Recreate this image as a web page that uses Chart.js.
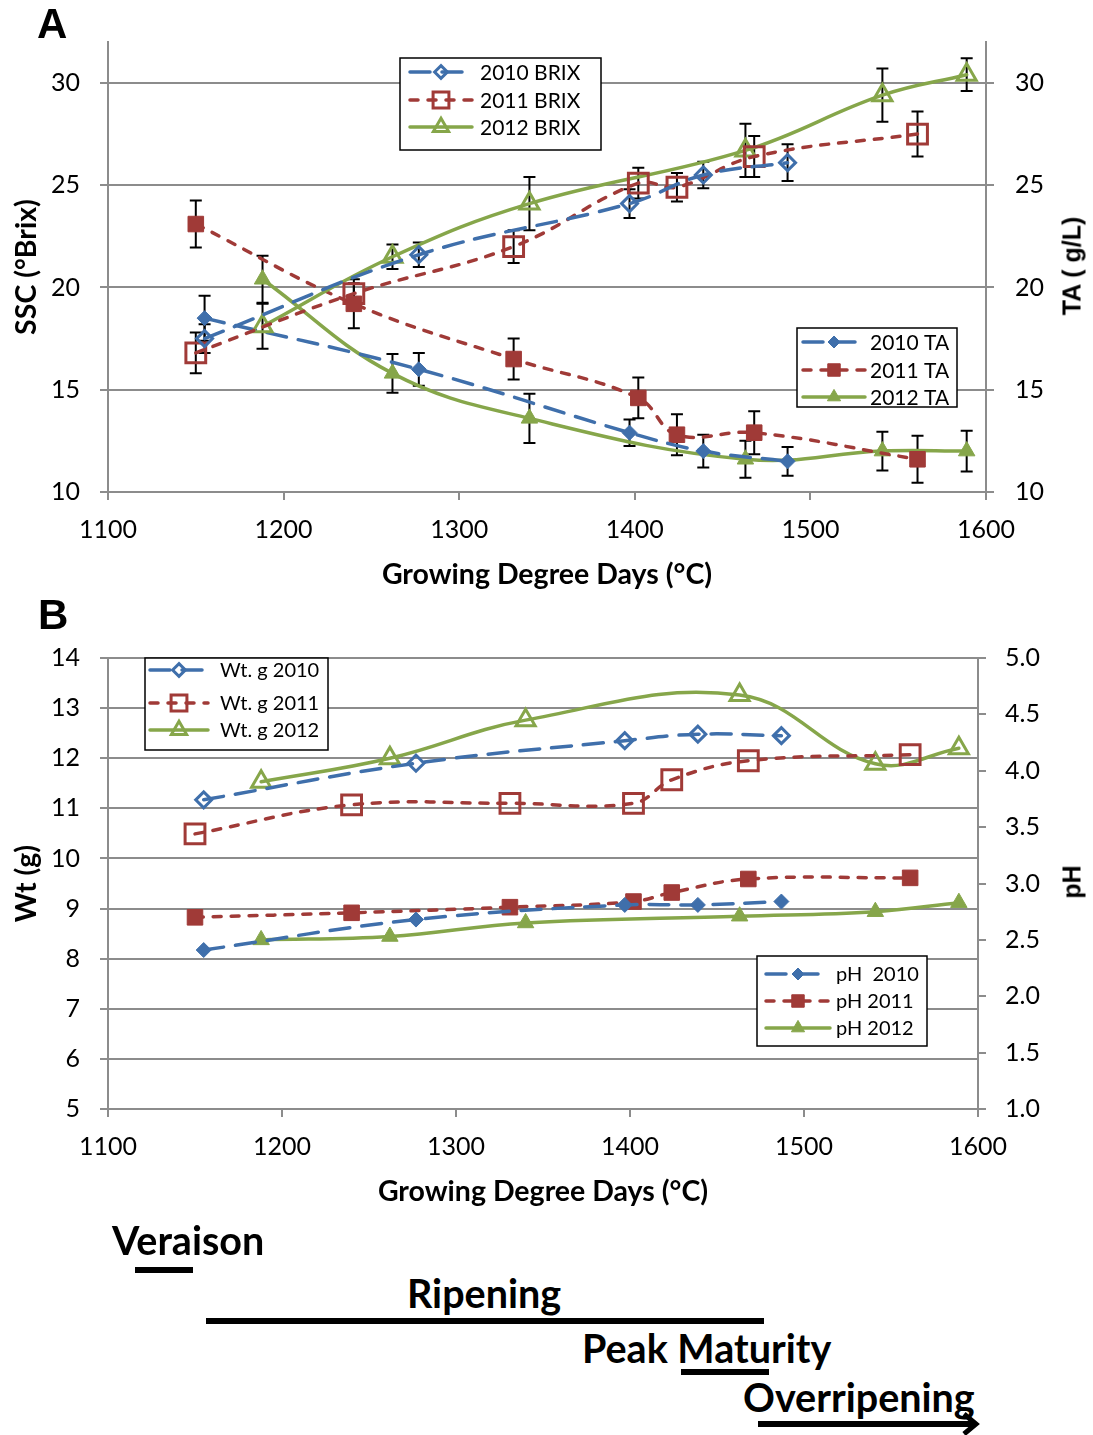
<!DOCTYPE html>
<html lang="en">
<head>
<meta charset="UTF-8">
<title>Berry SSC, TA, weight and pH against growing degree days</title>
<script src="https://cdn.jsdelivr.net/npm/chart.js"></script>
<style>
  body { margin: 0; background: #fff; }
  #page { position: relative; width: 1093px; height: 1435px; overflow: hidden; }
  canvas { position: absolute; left: 0; }
  #chartA { top: 0; }
  #chartB { top: 600px; }
  .tag { position: absolute; font: bold 42px "Liberation Sans", Arial, sans-serif; line-height: 42px; }
  .rtitle { position: absolute; font: bold 25px "Liberation Sans", Arial, sans-serif; white-space: nowrap;
            transform: translate(-50%, -50%) rotate(-90deg); }
  .stage { position: absolute; font: bold 39.5px Lato, sans-serif; line-height: 39.5px; white-space: nowrap; }
  .bar { position: absolute; background: #000; height: 6px; }
</style>
</head>
<body>
<div id="page">
  <canvas id="chartA" width="1093" height="600"></canvas>
  <canvas id="chartB" width="1093" height="620"></canvas>

  <div class="tag" style="left:37px; top:3px;">A</div>
  <div class="tag" style="left:38px; top:594px;">B</div>
  <div class="rtitle" style="left:1072px; top:266px;">TA ( g/L)</div>
  <div class="rtitle" style="left:1072px; top:882px;">pH</div>

  <div class="stage" style="left:112px; top:1220px;">Veraison</div>
  <div class="bar" style="left:135px; width:58px; top:1267px;"></div>
  <div class="stage" style="left:407px; top:1273px;">Ripening</div>
  <div class="bar" style="left:206px; width:558px; top:1318px;"></div>
  <div class="stage" style="left:582px; top:1328px;">Peak Maturity</div>
  <div class="bar" style="left:681px; width:88px; top:1369px;"></div>
  <div class="stage" style="left:743px; top:1377px;">Overripening</div>
  <svg style="position:absolute; left:750px; top:1408px;" width="240" height="27">
    <line x1="8" y1="16" x2="224" y2="16" stroke="#000" stroke-width="6"/>
    <polyline points="214,6 226,16 214,26" fill="none" stroke="#000" stroke-width="5"/>
  </svg>
</div>

<script>
// growing degree days at each sampling date (°C)
const gdd2010 = [1155, 1277, 1397, 1439, 1487];
const gdd2011 = [1150, 1240, 1331, 1402, 1424, 1468, 1561];
const gdd2012 = [1188, 1262, 1340, 1463, 1541, 1589];

// panel A: soluble solids (°Brix) and titratable acidity (g/L), with error bars
const brix2010 = [17.5, 21.6, 24.1, 25.5, 26.1];
const brix2011 = [16.8, 19.7, 22.0, 25.1, 24.9, 26.4, 27.5];
const brix2012 = [18.1, 21.5, 24.1, 26.7, 29.4, 30.4];
const ta2010 = [18.5, 16.0, 12.9, 12.0, 11.5];
const ta2011 = [23.1, 19.2, 16.5, 14.6, 12.8, 12.9, 11.6];
const ta2012 = [20.4, 15.8, 13.6, 11.6, 12.0, 12.0];

const brixErr2010 = [0.7, 0.6, 0.7, 0.65, 0.9];
const brixErr2011 = [1.0, 0.5, 0.8, 0.75, 0.7, 1.0, 1.1];
const brixErr2012 = [1.1, 0.6, 1.3, 1.3, 1.3, 0.8];
const taErr2010 = [1.1, 0.8, 0.65, 0.8, 0.7];
const taErr2011 = [1.15, 1.2, 1.0, 1.0, 1.0, 1.05, 1.15];
const taErr2012 = [1.15, 0.95, 1.2, 0.9, 0.95, 1.0];

// panel B: berry weight (g) and juice pH
const wt2010 = [11.17, 11.9, 12.35, 12.48, 12.45];
const wt2011 = [10.49, 11.07, 11.1, 11.1, 11.57, 11.95, 12.07];
const wt2012 = [11.53, 12.0, 12.76, 13.26, 11.89, 12.2];
const ph2010 = [2.41, 2.68, 2.81, 2.81, 2.84];
const ph2011 = [2.70, 2.74, 2.79, 2.84, 2.92, 3.04, 3.05];
const ph2012 = [2.50, 2.53, 2.65, 2.71, 2.75, 2.83];

const BLUE = '#3F6FAB', RED = '#A03A37', GREEN = '#86A64A';
const GRID = '#8C8C8C';
const FONT = 'Lato';

const pts = (xs, ys) => xs.map((x, i) => ({ x: x, y: ys[i] }));

// year styles: 2010 long dash, 2011 short dash, 2012 solid
const yearStyle = {
  2010: { color: BLUE, dash: [20, 12], open: 'rectRot', openR: 8, filled: 'rectRot', filledR: 7.5 },
  2011: { color: RED, dash: [8, 10], open: 'rect', openR: 14, filled: 'rect', filledR: 11 },
  2012: { color: GREEN, dash: [], open: 'triangle', openR: 11, filled: 'triangle', filledR: 9.5 }
};

function series(label, year, xs, ys, open, axis, errs) {
  const s = yearStyle[year];
  return {
    label: label,
    data: pts(xs, ys),
    errors: errs,
    yAxisID: axis,
    borderColor: s.color,
    borderWidth: 3.5,
    borderDash: s.dash,
    borderCapStyle: 'round',
    tension: 0.4,
    fill: false,
    pointStyle: open ? s.open : s.filled,
    pointRadius: open ? s.openR : s.filledR,
    pointHoverRadius: open ? s.openR : s.filledR,
    pointBorderColor: s.color,
    pointBackgroundColor: open ? 'rgba(0,0,0,0)' : s.color,
    pointBorderWidth: open ? 3 : 1
  };
}

// vertical error bars, drawn under the markers
const errorBars = {
  id: 'errorBars',
  beforeDatasetsDraw(chart) {
    const ctx = chart.ctx;
    const xs = chart.scales.x;
    ctx.save();
    ctx.strokeStyle = '#000';
    ctx.lineWidth = 2;
    chart.data.datasets.forEach(ds => {
      if (!ds.errors) return;
      const ys = chart.scales[ds.yAxisID];
      ds.data.forEach((p, i) => {
        const e = ds.errors[i];
        const px = xs.getPixelForValue(p.x);
        const top = ys.getPixelForValue(p.y + e);
        const bot = ys.getPixelForValue(p.y - e);
        ctx.beginPath();
        ctx.moveTo(px, top); ctx.lineTo(px, bot);
        ctx.moveTo(px - 6, top); ctx.lineTo(px + 6, top);
        ctx.moveTo(px - 6, bot); ctx.lineTo(px + 6, bot);
        ctx.stroke();
      });
    });
    ctx.restore();
  }
};

// Excel-style boxed legends placed inside the plot
const boxLegend = {
  id: 'boxLegend',
  afterDraw(chart, args, opts) {
    const ctx = chart.ctx;
    (opts.boxes || []).forEach(box => {
      ctx.save();
      ctx.fillStyle = '#fff';
      ctx.fillRect(box.x, box.y, box.w, box.h);
      ctx.strokeStyle = '#000';
      ctx.lineWidth = 1.5;
      ctx.strokeRect(box.x, box.y, box.w, box.h);
      box.items.forEach((idx, i) => {
        const ds = chart.data.datasets[idx];
        const y = box.rows[i];
        ctx.save();
        ctx.strokeStyle = ds.borderColor;
        ctx.lineWidth = ds.borderWidth;
        ctx.lineCap = 'round';
        ctx.setLineDash(ds.borderDash);
        ctx.beginPath();
        ctx.moveTo(box.lineX[0], y);
        ctx.lineTo(box.lineX[1], y);
        ctx.stroke();
        ctx.restore();
        ctx.save();
        ctx.fillStyle = ds.pointBackgroundColor;
        ctx.strokeStyle = ds.pointBorderColor;
        ctx.lineWidth = ds.pointBorderWidth;
        Chart.helpers.drawPoint(ctx, {
          pointStyle: ds.pointStyle,
          radius: ds.pointRadius * 0.8,
          rotation: 0,
          borderWidth: ds.pointBorderWidth
        }, (box.lineX[0] + box.lineX[1]) / 2, y);
        ctx.restore();
        ctx.fillStyle = '#000';
        ctx.font = box.fontSize + 'px ' + FONT;
        ctx.textBaseline = 'middle';
        ctx.fillText(ds.label, box.textX, y + 1);
      });
      ctx.restore();
    });
  }
};

const tickFont = { family: FONT, size: 25 };
const titleFont = { family: FONT, size: 28.5, weight: 'bold' };

function xAxis(height, titlePad) {
  return {
    type: 'linear', min: 1100, max: 1600,
    ticks: { stepSize: 100, font: tickFont, color: '#000', padding: 15, maxRotation: 0, callback: v => String(v) },
    grid: { drawOnChartArea: false, color: GRID, lineWidth: 2, tickLength: 8 },
    border: { color: GRID, width: 2 },
    title: { display: true, text: 'Growing Degree Days (°C)', font: titleFont, color: '#000', padding: { bottom: titlePad } },
    afterFit: s => { s.height = height; }
  };
}

function yAxis(pos, min, max, step, width, pad, grid, title, fmt) {
  return {
    type: 'linear', position: pos, min: min, max: max,
    ticks: { stepSize: step, includeBounds: false, font: tickFont, color: '#000', padding: pad, callback: fmt },
    grid: { drawOnChartArea: grid, color: GRID, lineWidth: 2, tickLength: 8 },
    border: { color: GRID, width: 2 },
    title: title ? { display: true, text: title, font: titleFont, color: '#000', padding: { top: 10 } } : { display: false },
    afterFit: s => { s.width = width; }
  };
}

const common = {
  responsive: false,
  animation: false,
  plugins: { legend: { display: false }, tooltip: { enabled: false } }
};

new Chart(document.getElementById('chartA'), {
  type: 'line',
  data: {
    datasets: [
      series('2010 BRIX', 2010, gdd2010, brix2010, true, 'y', brixErr2010),
      series('2011 BRIX', 2011, gdd2011, brix2011, true, 'y', brixErr2011),
      series('2012 BRIX', 2012, gdd2012, brix2012, true, 'y', brixErr2012),
      series('2010 TA', 2010, gdd2010, ta2010, false, 'y2', taErr2010),
      series('2011 TA', 2011, gdd2011, ta2011, false, 'y2', taErr2011),
      series('2012 TA', 2012, gdd2012, ta2012, false, 'y2', taErr2012)
    ]
  },
  options: Object.assign({}, common, {
    layout: { padding: { top: 42, left: 0, right: 0, bottom: 0 } },
    scales: {
      x: xAxis(108, 8),
      y: yAxis('left', 10, 32, 5, 108, 20, true, 'SSC (°Brix)', v => String(v)),
      y2: yAxis('right', 10, 32, 5, 107, 21, false, null, v => String(v))
    },
    plugins: Object.assign({}, common.plugins, {
      boxLegend: {
        boxes: [
          { x: 400, y: 58, w: 201, h: 92, items: [0, 1, 2], rows: [72, 100, 127], lineX: [410, 472], textX: 480, fontSize: 21 },
          { x: 797, y: 328, w: 160, h: 79, items: [3, 4, 5], rows: [342, 370, 397], lineX: [803, 865], textX: 870, fontSize: 21 }
        ]
      }
    })
  }),
  plugins: [errorBars, boxLegend]
});

new Chart(document.getElementById('chartB'), {
  type: 'line',
  data: {
    datasets: [
      series('Wt. g 2010', 2010, gdd2010, wt2010, true, 'y'),
      series('Wt. g 2011', 2011, gdd2011, wt2011, true, 'y'),
      series('Wt. g 2012', 2012, gdd2012, wt2012, true, 'y'),
      series('pH  2010', 2010, gdd2010, ph2010, false, 'y2'),
      series('pH 2011', 2011, gdd2011, ph2011, false, 'y2'),
      series('pH 2012', 2012, gdd2012, ph2012, false, 'y2')
    ]
  },
  options: Object.assign({}, common, {
    layout: { padding: { top: 58, left: 0, right: 0, bottom: 0 } },
    scales: {
      x: xAxis(111, 11),
      y: yAxis('left', 5, 14, 1, 108, 20, true, 'Wt (g)', v => String(v)),
      y2: yAxis('right', 1, 5, 0.5, 115, 19, false, null, v => v.toFixed(1))
    },
    plugins: Object.assign({}, common.plugins, {
      boxLegend: {
        boxes: [
          { x: 145, y: 58, w: 183, h: 92, items: [0, 1, 2], rows: [70, 103, 130], lineX: [150, 208], textX: 220, fontSize: 20 },
          { x: 757, y: 356, w: 170, h: 90, items: [3, 4, 5], rows: [374, 401, 428], lineX: [766, 830], textX: 836, fontSize: 20 }
        ]
      }
    })
  }),
  plugins: [boxLegend]
});
</script>
</body>
</html>
